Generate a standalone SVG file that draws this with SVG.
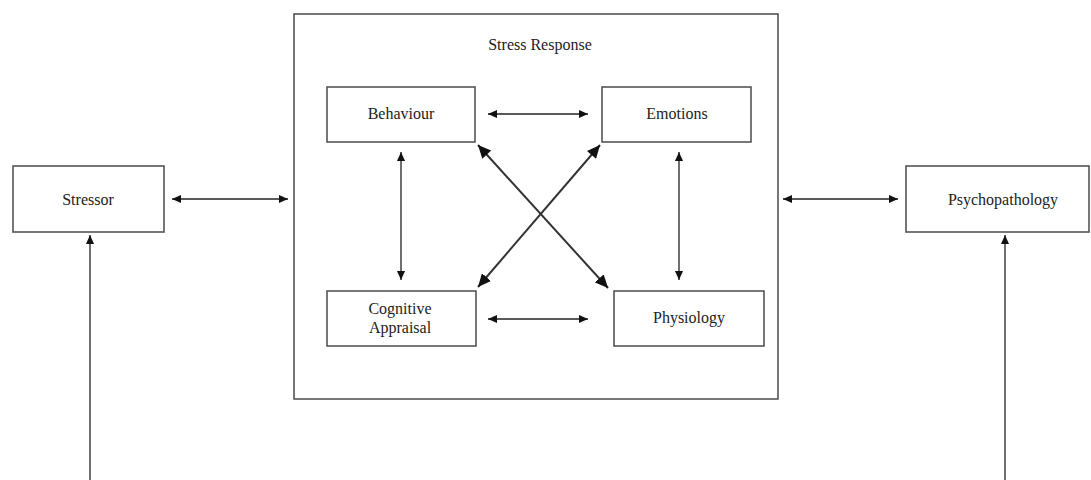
<svg xmlns="http://www.w3.org/2000/svg" width="1091" height="480" viewBox="0 0 1091 480">
<style>
.box{fill:#fff;stroke:#555;stroke-width:1.6}
.lbl{font-family:"Liberation Serif","Times New Roman",serif;font-size:16px;fill:#222;text-anchor:middle}
.c{stroke:#222;stroke-width:1.3;fill:none;marker-start:url(#s);marker-end:url(#e)}
.d{stroke:#333;stroke-width:2;fill:none;marker-start:url(#bs);marker-end:url(#be)}
.u{stroke:#222;stroke-width:1.3;fill:none;marker-end:url(#e)}
</style>
<defs>
<marker id="e" markerUnits="userSpaceOnUse" markerWidth="10" markerHeight="8" refX="9" refY="4" orient="auto"><path d="M0,0 L9,4 L0,8 z" fill="#111"/></marker>
<marker id="s" markerUnits="userSpaceOnUse" markerWidth="10" markerHeight="8" refX="0" refY="4" orient="auto"><path d="M9,0 L0,4 L9,8 z" fill="#111"/></marker>
<marker id="be" markerUnits="userSpaceOnUse" markerWidth="14" markerHeight="12" refX="13" refY="6" orient="auto"><path d="M0,0 L13,6 L0,12 z" fill="#111"/></marker>
<marker id="bs" markerUnits="userSpaceOnUse" markerWidth="14" markerHeight="12" refX="0" refY="6" orient="auto"><path d="M13,0 L0,6 L13,12 z" fill="#111"/></marker>
</defs>
<rect width="1091" height="480" fill="#fff"/>
<g id="stress-response">
<rect class="box" x="294" y="14" width="484" height="385"/>
<text class="lbl" x="540" y="50">Stress Response</text>
</g>
<g id="stressor">
<rect class="box" x="13" y="166" width="151" height="66"/>
<text class="lbl" x="88" y="205">Stressor</text>
</g>
<g id="psychopathology">
<rect class="box" x="906" y="166" width="183" height="66"/>
<text class="lbl" x="1003" y="205">Psychopathology</text>
</g>
<g id="behaviour">
<rect class="box" x="327" y="87" width="148" height="55"/>
<text class="lbl" x="401" y="119">Behaviour</text>
</g>
<g id="emotions">
<rect class="box" x="602" y="87" width="149" height="55"/>
<text class="lbl" x="677" y="119">Emotions</text>
</g>
<g id="cognitive-appraisal">
<rect class="box" x="327" y="291" width="149" height="55"/>
<text class="lbl" x="400" y="314">Cognitive</text>
<text class="lbl" x="400" y="333">Appraisal</text>
</g>
<g id="physiology">
<rect class="box" x="614" y="291" width="150" height="55"/>
<text class="lbl" x="689" y="323">Physiology</text>
</g>
<g id="connectors">
<line class="c" x1="172" y1="199" x2="288" y2="199"/>
<line class="c" x1="783" y1="199" x2="898" y2="199"/>
<line class="c" x1="488" y1="114" x2="588" y2="114"/>
<line class="c" x1="488" y1="319" x2="588" y2="319"/>
<line class="c" x1="401" y1="152" x2="401" y2="280"/>
<line class="c" x1="679" y1="152" x2="679" y2="280"/>
<line class="d" x1="478" y1="145" x2="608" y2="288"/>
<line class="d" x1="600" y1="145" x2="478" y2="287"/>
<line class="u" x1="90" y1="480" x2="90" y2="235"/>
<line class="u" x1="1005" y1="480" x2="1005" y2="235"/>
</g>
</svg>
